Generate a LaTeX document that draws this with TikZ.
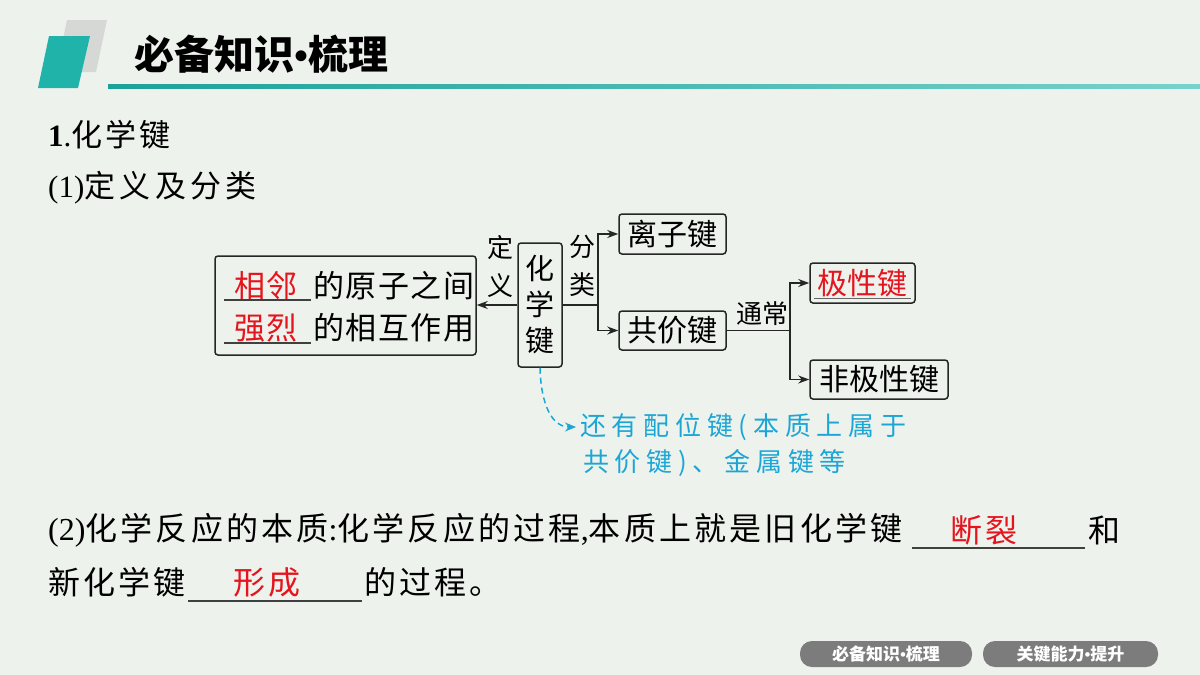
\documentclass[tikz,border=0pt]{standalone}
\usepackage{fontspec}
\setmainfont{Liberation Serif}
\newfontfamily\cjk{Noto Sans CJK SC}
\newfontfamily\cjkls{Noto Sans CJK SC}[LetterSpace=10]
\newfontfamily\cjkhd{Noto Sans CJK SC}[LetterSpace=14]
\newfontfamily\cjkmid{Noto Sans CJK SC}[LetterSpace=5]
\newfontfamily\cjknote{Noto Sans CJK SC}[LetterSpace=22]
\usetikzlibrary{arrows.meta,calc}
\newcommand\fsz[1]{\fontsize{#1}{#1}\selectfont}
\newcommand\lat[1]{{\rmfamily #1}}
\definecolor{bg}{HTML}{EEF2ED}
\definecolor{teal1}{HTML}{1FB3AA}
\definecolor{grayshape}{HTML}{D6D8D6}
\definecolor{redtxt}{HTML}{E5141E}
\definecolor{note}{HTML}{1CA6D6}
\definecolor{btn}{HTML}{7B7C7B}
\begin{document}
\begin{tikzpicture}[x=1pt,y=-1pt,
  box/.style={draw=black!85,line width=1.5pt,rounded corners=3pt,inner sep=0pt},
  txt/.style={inner sep=0pt,font=\cjkmid\fsz{31}},
  lbl/.style={inner sep=0pt,font=\cjk\fsz{26}},
  con/.style={line width=1.5pt,draw=black!85},
  arr/.style={con,-{Stealth[length=11pt,width=8pt]}},
  ul/.style={line width=1.2pt,draw=black!75},
  para/.style={inner sep=0pt,font=\cjkls\fsz{32}},
  btnbox/.style={fill=btn,rounded corners=12pt,minimum height=26pt,inner sep=0pt,text=white,font=\cjk\bfseries\fsz{17}}
]
\useasboundingbox (0,0) rectangle (1200,675);
\fill[bg] (0,0) rectangle (1200,675);
% header
\fill[grayshape] (67,20) -- (107,20) -- (96,72) -- (56,72) -- cycle;
\fill[teal1] (49,36) -- (90,36) -- (78,88) -- (38,88) -- cycle;
\fill[left color=teal1!90!black,right color=teal1!60] (108,84) rectangle (1200,88.5);
\node[anchor=west,inner sep=0pt,font=\cjk\bfseries\fsz{40}] (title) at (134,54) {必备知识\lat{\textbf{•}}梳理};
% headings
\node[anchor=west,inner sep=0pt,font=\cjkls\fsz{31}] (h1) at (48,135) {\lat{\textbf{1}.}化学键};
\node[anchor=west,inner sep=0pt,font=\cjkhd\fsz{31}] (h2) at (48,188) {\lat{(1)}定义及分类};
% diagram boxes
\node[box,minimum width=261pt,minimum height=99pt] (def) at (345.5,305.5) {};
\node[txt,text=redtxt] (r1) at (266,286) {相邻};
\draw[ul] (224,300) -- (311,300);
\node[txt,anchor=west] (t1) at (313,286) {的原子之间};
\node[txt,text=redtxt] (r2) at (266,328) {强烈};
\draw[ul] (224,343) -- (311,343);
\node[txt,anchor=west] (t2) at (313,328) {的相互作用};
\node[box,minimum width=44pt,minimum height=124pt,align=center,font=\cjk\fsz{29}] (hx) at (540,305) {化\\[7pt]学\\[7pt]键};
\node[box,minimum width=107pt,minimum height=40pt,font=\cjk\fsz{30}] (ion) at (672.5,234) {离子键};
\node[box,minimum width=107pt,minimum height=39pt,font=\cjk\fsz{30}] (cov) at (672.5,330.5) {共价键};
\node[box,minimum width=105pt,minimum height=40pt,font=\cjk\fsz{30},text=redtxt] (pol) at (862.5,283) {极性键};
\draw[line width=1pt,draw=black!60] (814,298) -- (911,298);
\node[box,minimum width=138pt,minimum height=39pt,font=\cjk\fsz{30}] (npol) at (879,379.5) {非极性键};
% labels
\node[lbl] (d1) at (500,248) {定};
\node[lbl] (d2) at (500,286) {义};
\node[lbl] (f1) at (582,247) {分};
\node[lbl] (f2) at (582,285) {类};
\node[lbl] (tc) at (762,314) {通常};
% connectors
\draw[arr] (hx.west) -- (hx.west -| def.east);
\coordinate (b1) at (598,305);
\draw[con] (hx.east |- b1) -- (b1);
\draw[arr] (b1) |- (ion.west);
\draw[arr] (b1) |- (cov.west);
\coordinate (b2) at (790,330.5);
\draw[con] (cov.east) -- (b2);
\draw[arr] (b2) |- (pol.west);
\draw[arr] (b2) |- (npol.west);
% note
\coordinate (ne) at (576,427);
\draw[note,line width=1.5pt,dash pattern=on 6pt off 4pt,-{Stealth[length=11pt,width=9pt]}] (hx.south) .. controls (541,405) and (552,427) .. (ne);
\node[anchor=west,inner sep=0pt,text=note,font=\cjknote\fsz{26}] (n1) at (580,427) {还有配位键(本质上属于};
\node[anchor=west,inner sep=0pt,text=note,font=\cjknote\fsz{26}] (n2) at (583,463) {共价键)、金属键等};
% paragraph 2
\node[para,anchor=west] (p1) at (48,530) {\lat{(2)}化学反应的本质\lat{:}化学反应的过程\lat{,}本质上就是旧化学键};
\draw[ul] (912,548) -- (1085,548);
\node[para,text=redtxt] (a1) at (984,530) {断裂};
\node[para,anchor=west] (p2) at (1088,530) {和};
\node[para,anchor=west] (p3) at (48,582) {新化学键};
\draw[ul] (188,601) -- (362,601);
\node[para,text=redtxt] (a2) at (267,582) {形成};
\node[para,anchor=west] (p4) at (364,582) {的过程。};
% buttons
\node[btnbox,minimum width=172pt] (bt1) at (886,654) {必备知识\lat{\textbf{•}}梳理};
\node[btnbox,minimum width=175pt] (bt2) at (1070.5,654) {关键能力\lat{\textbf{•}}提升};
\end{tikzpicture}
\end{document}
